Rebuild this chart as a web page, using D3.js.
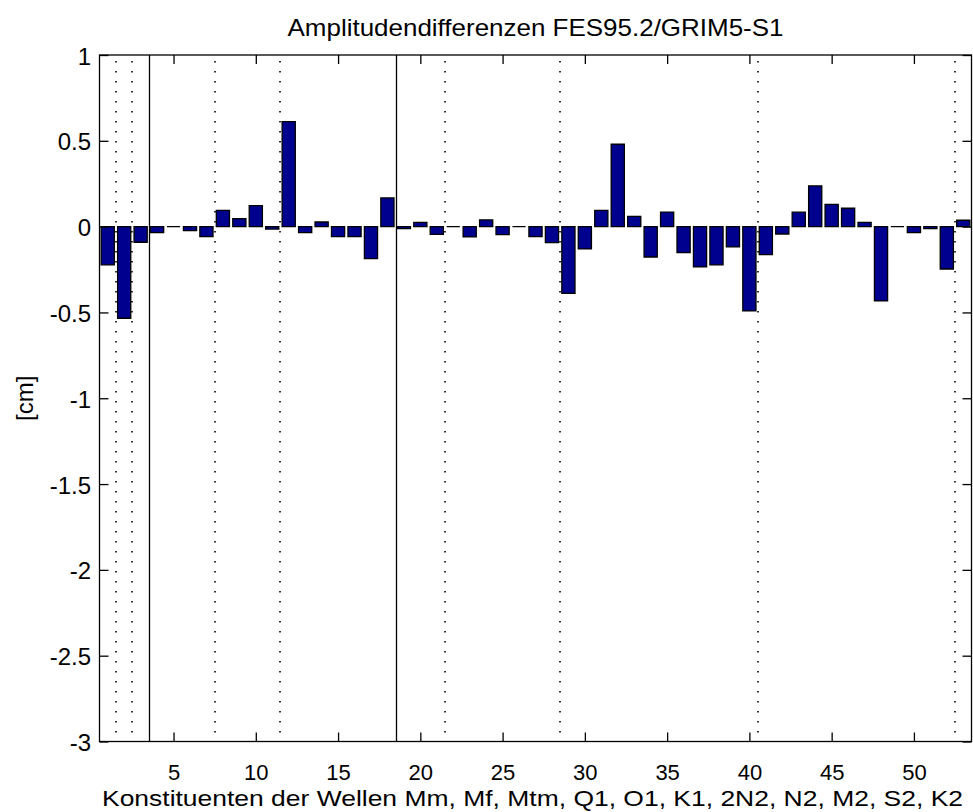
<!DOCTYPE html>
<html><head><meta charset="utf-8">
<script src="https://cdn.jsdelivr.net/npm/d3@7"></script>
<style>
html,body{margin:0;padding:0;background:#fff;}
text{font-family:"Liberation Sans",Arial,sans-serif;fill:#000;}
</style></head>
<body>
<svg id="chart" width="973" height="812"></svg>
<script>
// ---- data ----
const constituents = d3.range(1, 54);
const values = [-0.223, -0.534, -0.091, -0.035, 0, -0.023, -0.058, 0.095, 0.047, 0.122,
  -0.014, 0.612, -0.035, 0.027, -0.058, -0.058, -0.186, 0.167, -0.012, 0.025,
  -0.045, 0, -0.06, 0.039, -0.047, 0, -0.058, -0.093, -0.389, -0.130,
  0.095, 0.48, 0.060, -0.177, 0.085, -0.152, -0.235, -0.223, -0.118, -0.491,
  -0.163, -0.043, 0.084, 0.237, 0.130, 0.107, 0.025, -0.433, 0, -0.035,
  -0.012, -0.247, 0.037];
const xTicks = [5, 10, 15, 20, 25, 30, 35, 40, 45, 50];
const yTicks = [1, 0.5, 0, -0.5, -1, -1.5, -2, -2.5, -3];
const solidSeparators = [3.5, 18.5];
const dottedSeparators = [1.5, 2.5, 7.5, 11.5, 21.5, 28.5, 40.5, 52.5];
const titleText = "Amplitudendifferenzen FES95.2/GRIM5-S1";
const xLabelText = "Konstituenten der Wellen Mm, Mf, Mtm, Q1, O1, K1, 2N2, N2, M2, S2, K2";
const yLabelText = "[cm]";

// ---- layout ----
const L = 99.5, R = 971.5, T = 55, B = 741.5;
const svg = d3.select("#chart");
const x = d3.scaleLinear().domain([0.5, 53.5]).range([L, R]);
const y = d3.scaleLinear().domain([-3, 1]).range([B, T]);
const barW = 0.8;

// bars
svg.append("g").selectAll("path").data(values).join("path")
  .attr("d", (v, i) => {
    const c = constituents[i];
    const x0 = x(c - barW / 2), x1 = x(c + barW / 2);
    const y0 = y(0), y1 = y(v);
    return `M${x0},${y0}L${x0},${y1}L${x1},${y1}L${x1},${y0}Z`;
  })
  .attr("fill", "#00008f")
  .attr("stroke", "#000")
  .attr("stroke-width", 1.3);

// separators
svg.append("g").selectAll("line").data(dottedSeparators).join("line")
  .attr("x1", d => Math.round(x(d))).attr("x2", d => Math.round(x(d)))
  .attr("y1", T + 6).attr("y2", B)
  .attr("stroke", "#000").attr("stroke-width", 1.6)
  .attr("stroke-dasharray", "1.6 8.4");
svg.append("g").selectAll("line").data(solidSeparators).join("line")
  .attr("x1", d => Math.round(x(d)) + 0.5).attr("x2", d => Math.round(x(d)) + 0.5)
  .attr("y1", T).attr("y2", B)
  .attr("stroke", "#000").attr("stroke-width", 1.3);

// axes (MATLAB-style ticks inside, box on)
const tickLen = 9;
const gx = svg.append("g").attr("transform", `translate(0,${B})`)
  .call(d3.axisBottom(x).tickValues(xTicks).tickSize(-tickLen).tickFormat(d3.format("d")));
const gxTop = svg.append("g").attr("transform", `translate(0,${T})`)
  .call(d3.axisTop(x).tickValues(xTicks).tickSize(-tickLen).tickFormat(""));
const gy = svg.append("g").attr("transform", `translate(${L},0)`)
  .call(d3.axisLeft(y).tickValues(yTicks).tickSize(-tickLen).tickFormat(d => String(d).replace("−", "-")));
const gyR = svg.append("g").attr("transform", `translate(${R},0)`)
  .call(d3.axisRight(y).tickValues(yTicks).tickSize(-tickLen).tickFormat(""));
[gx, gxTop, gy, gyR].forEach(g => {
  g.select(".domain").remove();
  g.selectAll("line").attr("stroke", "#000").attr("stroke-width", 1.3);
  g.selectAll("text").attr("font-family", "Liberation Sans, Arial, sans-serif").attr("fill", "#000");
});
gx.selectAll("text").attr("font-size", 22).attr("dy", null).attr("y", 780 - B).attr("dominant-baseline", "auto");
gy.selectAll("text").attr("font-size", 24).attr("dy", null).attr("dominant-baseline", "auto").attr("y", 9).attr("x", 91 - L);

// box
svg.append("rect").attr("x", L).attr("y", T).attr("width", R - L).attr("height", B - T)
  .attr("fill", "none").attr("stroke", "#000").attr("stroke-width", 1.3);

// title
svg.append("text").attr("x", (L + R) / 2).attr("y", 36).attr("text-anchor", "middle")
  .attr("font-size", 24).attr("textLength", 496).attr("lengthAdjust", "spacingAndGlyphs")
  .text(titleText);
// x label
svg.append("text").attr("x", (L + R) / 2 - 3).attr("y", 805.5).attr("text-anchor", "middle")
  .attr("font-size", 22).attr("textLength", 861).attr("lengthAdjust", "spacingAndGlyphs")
  .text(xLabelText);
// y label
svg.append("text").attr("transform", `translate(33,${(T + B) / 2}) rotate(-90)`)
  .attr("text-anchor", "middle").attr("font-size", 24)
  .text(yLabelText);
</script>
</body></html>
